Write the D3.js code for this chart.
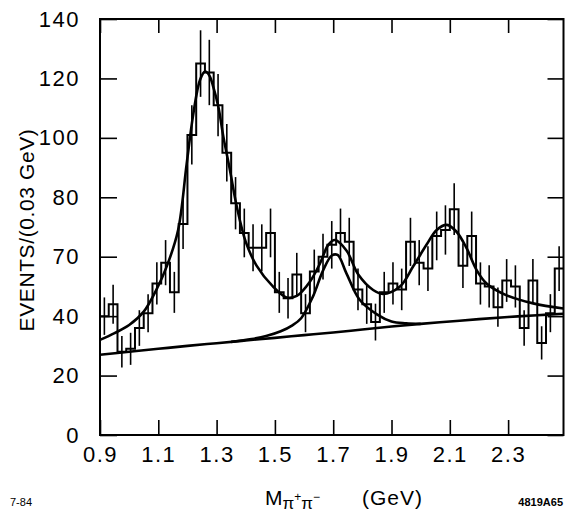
<!DOCTYPE html>
<html>
<head>
<meta charset="utf-8">
<script src="https://cdn.jsdelivr.net/npm/d3@7"></script>
<style>
  html, body { margin: 0; padding: 0; background: #fff; }
  svg { display: block; }
  text { font-family: "Liberation Sans", Arial, sans-serif; fill: #000; }
</style>
</head>
<body>
<svg id="chart" width="566" height="513"></svg>
<script>
// ---- data ----
const binStart = 0.9;
const binWidth = 0.03;
const counts = [40, 44, 28, 29, 36, 41, 51, 58, 48, 71,
                101, 125, 122, 111, 95, 78, 68, 63, 63, 68,
                48, 46, 54, 41, 55, 60, 64, 68, 65, 49,
                44, 38, 48, 51, 49, 65, 58, 56, 67, 69,
                76, 57, 67, 51, 50, 43, 52, 50, 36, 52,
                31, 41, 56];
const errors = [6.3, 6.6, 5.3, 5.4, 6.0, 6.4, 7.1, 7.6, 6.9, 8.4,
                10.0, 11.2, 11.0, 10.5, 9.7, 8.8, 8.2, 7.9, 7.9, 8.2,
                6.9, 6.8, 7.3, 6.4, 7.4, 7.7, 8.0, 8.2, 8.1, 7.0,
                6.6, 6.2, 6.9, 7.1, 7.0, 8.1, 7.6, 7.5, 8.2, 8.3,
                8.7, 7.5, 8.2, 7.1, 7.1, 6.6, 7.2, 7.1, 6.0, 7.2,
                5.6, 6.4, 7.5];

const bgMass = [0.9, 1.0, 1.1, 1.2, 1.3, 1.4, 1.5, 1.6, 1.7, 1.8, 1.9, 2.0, 2.1, 2.2, 2.3, 2.4, 2.49];
const bgVal  = [27, 28, 29, 30, 30.9, 31.8, 32.7, 33.6, 34.5, 35.5, 36.5, 37.4, 38.2, 39, 39.7, 40.3, 40.8];

const f1720Mass = [1.35, 1.42, 1.47, 1.52, 1.56, 1.59, 1.63, 1.665, 1.695, 1.715, 1.745, 1.79, 1.85, 1.9, 1.95, 2.0];
const f1720Val  = [31.35, 32.3, 33.3, 34.9, 36.9, 39.3, 46.5, 55.3, 60.4, 60.6, 54.5, 45.6, 40.6, 38.2, 37.6, 37.4];

const totMass = [0.9, 0.95, 1.0, 1.05, 1.094, 1.13, 1.168, 1.197, 1.22, 1.243, 1.26, 1.275, 1.289, 1.306,
                 1.323, 1.346, 1.369, 1.4, 1.437, 1.493, 1.54, 1.575, 1.62, 1.655, 1.683, 1.706, 1.746,
                 1.786, 1.837, 1.87, 1.929, 1.974, 2.02, 2.055, 2.09, 2.123, 2.158, 2.192, 2.226, 2.295,
                 2.386, 2.49];
const totVal  = [32, 34.3, 37, 41.5, 49, 57, 69, 91, 108, 119.5, 122.3, 121, 117, 110.5,
                 100.5, 89, 77, 65, 57, 50, 46.3, 46.8, 51.6, 57.8, 64, 65.6, 62,
                 54, 48.8, 47.5, 50, 56.7, 64, 69, 70.7, 68.4, 62.8, 55.5, 51, 47,
                 44.3, 42.6];

const xTicks = [0.9, 1.1, 1.3, 1.5, 1.7, 1.9, 2.1, 2.3];
const xTickLabels = ["0.9", "1.1", "1.3", "1.5", "1.7", "1.9", "2.1", "2.3"];
const yTicks = [0, 20, 40, 60, 80, 100, 120, 140];
const yTickLabels = ["0", "20", "40", "70", "80", "100", "120", "140"];

// ---- layout ----
const svg = d3.select("#chart");
const xDomain = [0.9, 2.49];
const x = d3.scaleLinear().domain(xDomain).range([100, 563.5]);
const y = d3.scaleLinear().domain([0, 140]).range([435, 19]);

// axes
const axL = d3.axisLeft(y).tickValues(yTicks).tickSize(-17).tickPadding(20)
  .tickFormat((d, i) => yTickLabels[i]);
const axR = d3.axisRight(y).tickValues(yTicks).tickSize(-16).tickFormat("");
const axB = d3.axisBottom(x).tickValues(xTicks).tickSize(-15).tickPadding(11)
  .tickFormat((d, i) => xTickLabels[i]);
const axT = d3.axisTop(x).tickValues(xTicks).tickSize(-14).tickFormat("");

function style(g) {
  g.select(".domain").remove();
  g.selectAll("line").attr("stroke", "#000").attr("stroke-width", 1.6);
  g.selectAll("text").attr("font-family", "Liberation Sans, Arial, sans-serif").attr("fill", "#000");
}
svg.append("g").attr("transform", "translate(100,0)").call(axL).call(style)
  .selectAll("text").attr("font-size", 22).attr("letter-spacing", 1.5);
svg.append("g").attr("transform", "translate(563.5,0)").call(axR).call(style);
svg.append("g").attr("transform", "translate(0,435)").call(axB).call(style)
  .selectAll("text").attr("font-size", 22).attr("letter-spacing", 1.5);
svg.append("g").attr("transform", "translate(0,19)").call(axT).call(style);

// frame
svg.append("rect").attr("x", x(xDomain[0])).attr("y", y(140))
  .attr("width", x(xDomain[1]) - x(xDomain[0])).attr("height", y(0) - y(140))
  .attr("fill", "none").attr("stroke", "#000").attr("stroke-width", 2);

// histogram (step)
const edges = counts.map((c, i) => binStart + i * binWidth);
const stepPts = counts.map((c, i) => [edges[i], c]);
stepPts.push([binStart + counts.length * binWidth, counts[counts.length - 1]]);
const stepLine = d3.line().x(d => x(d[0])).y(d => y(d[1])).curve(d3.curveStepAfter);
svg.append("path").attr("d", stepLine(stepPts))
  .attr("fill", "none").attr("stroke", "#000").attr("stroke-width", 2);

// error bars
svg.append("g").selectAll("line").data(counts).join("line")
  .attr("x1", (c, i) => x(edges[i] + binWidth / 2))
  .attr("x2", (c, i) => x(edges[i] + binWidth / 2))
  .attr("y1", (c, i) => y(c - errors[i]))
  .attr("y2", (c, i) => y(c + errors[i]))
  .attr("stroke", "#000").attr("stroke-width", 1.6);

// fit curves
const curveLine = d3.line().x(d => x(d[0])).y(d => y(d[1])).curve(d3.curveCatmullRom);
function drawCurve(ms, vs) {
  svg.append("path").attr("d", curveLine(ms.map((m, i) => [m, vs[i]])))
    .attr("fill", "none").attr("stroke", "#000").attr("stroke-width", 2.6);
}
drawCurve(bgMass, bgVal);
drawCurve(f1720Mass, f1720Val);
drawCurve(totMass, totVal);

// y title
svg.append("text").attr("transform", "translate(34,230) rotate(-90)")
  .attr("text-anchor", "middle").attr("font-size", 21).attr("letter-spacing", 0.6)
  .text("EVENTS/(0.03 GeV)");

// x title
const xt = svg.append("text").attr("x", 265).attr("y", 505).attr("font-size", 21);
xt.append("tspan").text("M");
xt.append("tspan").attr("font-size", 17).attr("dy", 4).text("π");
xt.append("tspan").attr("font-size", 12).attr("dy", -8).text("+");
xt.append("tspan").attr("font-size", 17).attr("dy", 8).text("π");
xt.append("tspan").attr("font-size", 12).attr("dy", -8).text("−");
xt.append("tspan").attr("dy", 4).attr("x", 362).attr("letter-spacing", 1).text("(GeV)");

// corner labels
svg.append("text").attr("x", 10).attr("y", 506).attr("font-size", 11).text("7-84");
svg.append("text").attr("x", 563).attr("y", 506).attr("text-anchor", "end")
  .attr("font-size", 11).attr("font-weight", "bold").text("4819A65");
</script>
</body>
</html>
